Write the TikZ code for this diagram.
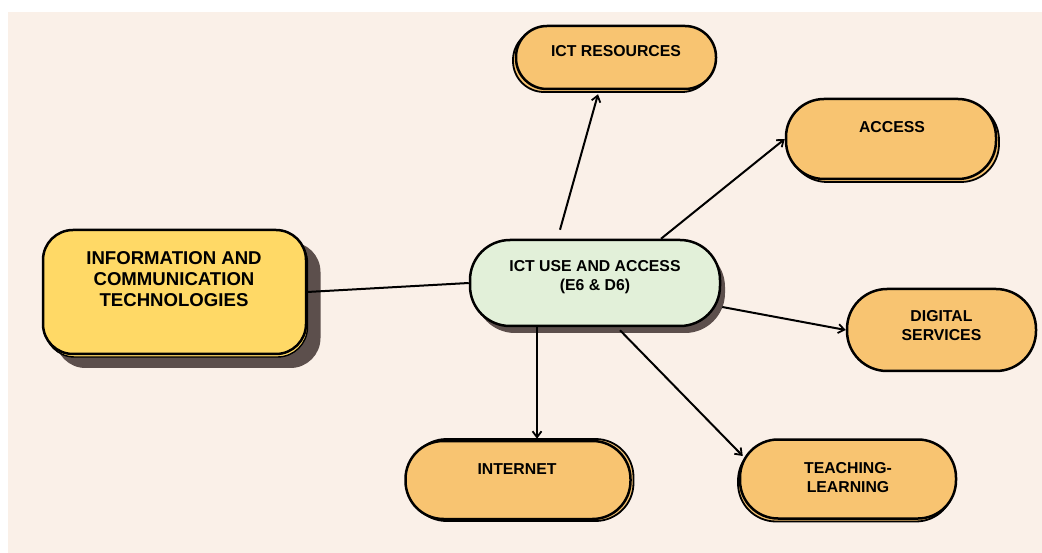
\documentclass[tikz,border=0pt]{standalone}
\usepackage{fontspec}
\setmainfont{Liberation Sans}
\usetikzlibrary{calc,arrows.meta}
\definecolor{bg}{HTML}{FAF0E8}
\definecolor{orng}{HTML}{F8C471}
\definecolor{yel}{HTML}{FFD966}
\definecolor{grn}{HTML}{E2F0D9}
\definecolor{shd}{HTML}{5C4F4C}
\tikzset{
  box/.style={draw=black, line width=2.5pt, inner sep=0pt, rectangle},
  obox/.style={box, fill=orng},
  bkbox/.style={draw=black, line width=1.8pt, inner sep=0pt, rectangle, fill=orng},
  txt/.style={font=\fontsize{15.8}{19}\selectfont\bfseries, align=center, inner sep=0pt},
  bigtxt/.style={font=\fontsize{18.6}{21}\selectfont\bfseries, align=center, inner sep=0pt},
  arr/.style={draw=black, line width=2pt, -{Straight Barb[length=6pt,width=9pt,line width=1.8pt]}},
  lnk/.style={draw=black, line width=2pt}
}
\begin{document}
\begin{tikzpicture}[x=1pt,y=-1pt]
\useasboundingbox (0,0) rectangle (1042,553);
\fill[bg] (8,12) rectangle (1042,553);

% ICT RESOURCES
\node[bkbox, rounded corners=31pt, minimum width=200pt, minimum height=63pt] (resb) at (613,60.5) {};
\node[obox, rounded corners=31pt, minimum width=200pt, minimum height=63pt] (res) at (616,57.5) {};
\node[txt] (rest) at (616,51) {ICT RESOURCES};

% ACCESS
\node[bkbox, rounded corners=38pt, minimum width=210pt, minimum height=80pt] (accb) at (894,142) {};
\node[obox, rounded corners=38pt, minimum width=210pt, minimum height=80pt] (acc) at (891,139) {};
\node[txt] (acct) at (892,127) {ACCESS};

% DIGITAL SERVICES
\node[obox, rounded corners=40pt, minimum width=189pt, minimum height=82pt] (dig) at (941.5,330) {};
\node[txt] (digt) at (941.5,325.5) {DIGITAL\\SERVICES};

% INTERNET
\node[bkbox, rounded corners=38pt, minimum width=225pt, minimum height=82pt] (intb) at (521,480) {};
\node[obox, rounded corners=38pt, minimum width=225pt, minimum height=78pt] (int) at (518,480) {};
\node[txt] (intt) at (517,469) {INTERNET};

% TEACHING-LEARNING
\node[bkbox, rounded corners=38pt, minimum width=216pt, minimum height=79pt] (teab) at (846,482) {};
\node[obox, rounded corners=38pt, minimum width=216pt, minimum height=79pt] (tea) at (848,479) {};
\node[txt] (teat) at (848,478) {TEACHING-\\LEARNING};

% INFORMATION AND COMMUNICATION TECHNOLOGIES
\node[fill=shd, rounded corners=30pt, minimum width=265pt, minimum height=126pt, inner sep=0pt] (infs) at (188,305) {};
\node[draw=black, line width=1.4pt, fill=yel, rounded corners=30pt, minimum width=263pt, minimum height=124pt, inner sep=0pt] (infb) at (176,295) {};
\node[box, fill=yel, rounded corners=30pt, minimum width=263pt, minimum height=124pt] (inf) at (174.5,292) {};
\node[bigtxt] (inft) at (174,279) {INFORMATION AND\\COMMUNICATION\\TECHNOLOGIES};

% ICT USE AND ACCESS
\node[fill=shd, rounded corners=40pt, minimum width=250pt, minimum height=86pt, inner sep=0pt] (cens) at (600,290) {};
\node[box, fill=grn, rounded corners=40pt, minimum width=250pt, minimum height=86pt] (cen) at (595,283) {};
\node[txt] (cent) at (595,277.5) {ICT USE AND ACCESS\\(E6 \& D6)};

% connectors
\draw[lnk] (inf.east) -- (cen.west);
\draw[arr] ($(cen.north)+(-35,-9)$) -- ($(res.south)+(-18,4)$);
\draw[arr] ($(cen.north)+(66,0)$) -- (acc.west);
\draw[arr] ($(cen.east)+(1,24)$) -- (dig.west);
\draw[arr] ($(cen.south)+(-58,0)$) -- ($(int.north)+(19,-1)$);
\draw[arr] ($(cen.south)+(25,3)$) -- ($(tea.west)+(4,-23)$);
\end{tikzpicture}
\end{document}
